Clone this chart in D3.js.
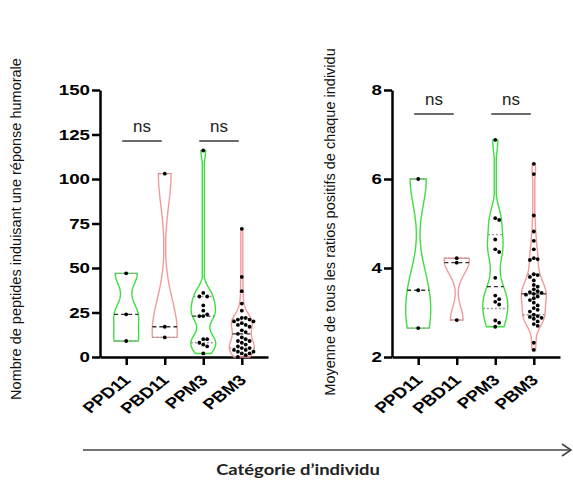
<!DOCTYPE html>
<html><head><meta charset="utf-8">
<script src="https://cdn.jsdelivr.net/npm/d3@7"></script>
<style>body{margin:0;background:#fff}</style>
</head><body><svg id="c" width="573" height="481"></svg>
<script>
// ---------- DATA ----------
const categories = ["PPD11", "PBD11", "PPM3", "PBM3"];
// Left panel: number of peptides inducing a humoral response
const leftPPD11 = [47, 24, 9];
const leftPBD11 = [103, 17, 11];
const leftPPM3 = [116, 36, 34, 34, 29, 26, 24, 23, 23, 10, 10, 8, 7, 6, 2];
const leftPBM3 = [72, 45, 37, 30, 26, 22, 22, 21, 21, 20, 20, 19, 18, 18, 17, 15, 14, 13, 11, 10, 9, 9, 8, 7, 6, 5, 5, 4, 4, 3, 3, 2, 2, 1, 0];
// Right panel: mean of positive ratios per individual
const rightPPD11 = [6.0, 3.5, 2.65];
const rightPBD11 = [4.22, 4.12, 2.83];
const rightPPM3 = [6.88, 5.12, 5.08, 4.64, 4.42, 4.36, 3.78, 3.38, 3.30, 3.24, 3.18, 2.82, 2.77, 2.68];
const rightPBM3 = [6.34, 6.11, 5.18, 4.82, 4.61, 4.42, 4.22, 4.20, 4.18, 3.86, 3.84, 3.80, 3.72, 3.62, 3.58, 3.52, 3.48, 3.46, 3.44, 3.42, 3.40, 3.36, 3.32, 3.28, 3.22, 3.16, 3.10, 3.06, 3.02, 2.95, 2.92, 2.90, 2.88, 2.86, 2.80, 2.74, 2.70, 2.32, 2.16];
const leftTicks = [0, 25, 50, 75, 100, 125, 150];
const rightTicks = [2, 4, 6, 8];
const leftTitle = "Nombre de peptides induisant une réponse humorale";
const rightTitle = "Moyenne de tous les ratios positifs de chaque individu";
const xTitle = "Catégorie d’individu";
const sigLabels = ["ns", "ns"];
const sigPairs = [["PPD11", "PBD11"], ["PPM3", "PBM3"]];

// ---------- SETTINGS ----------
const FONT = "'Liberation Sans', Arial, Helvetica, sans-serif";
const STRETCH = 1.25; // reference image is horizontally stretched
const colors = {PPD11: "#3fde3f", PBD11: "#f29b9b", PPM3: "#3fde3f", PBM3: "#f29b9b"};
const svg = d3.select("#c");
const Y0 = 357, Y1 = 90, HALF = 12.5;

function gpQuantile(sortedAsc, p) {
  const n = sortedAsc.length;
  let pos = (n + 1) * p;
  if (pos <= 1) return sortedAsc[0];
  if (pos >= n) return sortedAsc[n - 1];
  const lo = Math.floor(pos), f = pos - lo;
  return sortedAsc[lo - 1] + f * (sortedAsc[lo] - sortedAsc[lo - 1]);
}

function drawPanel(cfg) {
  const g = svg.append("g");
  const y = d3.scaleLinear().domain(cfg.domain).range([Y0, Y1]);
  const x = d3.scalePoint().domain(categories).range(cfg.xRange).padding(0.68);

  // axes
  const ya = g.append("g").attr("transform", `translate(${cfg.xRange[0]},0)`)
    .call(d3.axisLeft(y).tickValues(cfg.ticks).tickFormat(d3.format("d"))
      .tickSize(8).tickSizeOuter(0).tickPadding(2));
  const xa = g.append("g").attr("transform", `translate(0,${Y0})`)
    .call(d3.axisBottom(x).tickSize(8).tickSizeOuter(0));
  [ya, xa].forEach(a => {
    a.attr("font-family", null);
    a.select(".domain").attr("stroke", "#000").attr("stroke-width", 2.5);
    a.selectAll(".tick line").attr("stroke", "#000").attr("stroke-width", 2.5);
  });
  ya.selectAll("text").style("font-family", FONT)
    .attr("font-weight", "bold").attr("font-size", 15).attr("fill", "#000")
    .attr("x", -10 / STRETCH).attr("transform", `scale(${STRETCH},1)`);
  xa.selectAll("text").style("font-family", FONT)
    .attr("font-weight", "bold").attr("font-size", 15).attr("fill", "#000")
    .attr("text-anchor", "end").attr("dy", 0).attr("y", 0)
    .attr("transform", `translate(5,24) scale(${STRETCH},1) rotate(-45)`);

  // title
  g.append("text").attr("transform", `translate(${cfg.titleX},${cfg.titleY}) rotate(-90)`)
    .attr("text-anchor", "middle").style("font-family", FONT)
    .attr("font-size", 14.5).attr("fill", "#111").text(cfg.title);

  // violins
  categories.forEach((c, i) => {
    const vals = cfg.data[i];
    const bw = cfg.bw[i];
    const asc = vals.slice().sort((a, b) => a - b);
    const mn = asc[0], mx = asc[asc.length - 1];
    const N = 120;
    const grid = d3.range(N + 1).map(k => mn + (mx - mn) * k / N);
    const dens = v => d3.sum(vals, d => Math.exp(-((v - d) ** 2) / (2 * bw * bw)));
    const dg = grid.map(dens);
    const dmax = d3.max(dg);
    const widthAt = v => Math.max(1.0, dens(v) / dmax * HALF);
    const pts = grid.map((v, k) => ({v, w: Math.max(1.0, dg[k] / dmax * HALF)}));
    const cx = x(c);
    const area = d3.area().x0(p => cx - p.w).x1(p => cx + p.w).y(p => y(p.v)).curve(d3.curveLinear);
    g.append("path").attr("d", area(pts)).attr("fill", "none")
      .attr("stroke", colors[c]).attr("stroke-width", 1.4);

    // quartiles & median
    const q1 = gpQuantile(asc, 0.25), med = gpQuantile(asc, 0.5), q3 = gpQuantile(asc, 0.75);
    [[q1, "#9a9a9a", "2,2"], [q3, "#9a9a9a", "2,2"], [med, "#333", "4,3"]].forEach(([q, col, da]) => {
      const w = widthAt(q);
      g.append("line").attr("x1", cx - w).attr("x2", cx + w).attr("y1", y(q)).attr("y2", y(q))
        .attr("stroke", col).attr("stroke-width", 1.3).attr("stroke-dasharray", da);
    });

    // beeswarm points
    const placed = [];
    const r = 1.9, step = 3.9;
    vals.slice().sort((a, b) => b - a).forEach(v => {
      const py = y(v);
      let off = 0;
      for (let k = 0; k < 40; k++) {
        const o = k === 0 ? 0 : (k % 2 ? 1 : -1) * Math.ceil(k / 2) * step;
        const ok = placed.every(p => Math.hypot(p.x - o, p.y - py) >= step);
        if (ok) { off = o; break; }
      }
      placed.push({x: off, y: py});
      g.append("circle").attr("cx", cx + off).attr("cy", py).attr("r", r).attr("fill", "#000");
    });
  });

  // significance
  sigPairs.forEach((pr, j) => {
    const xa0 = x(pr[0]) - 4, xa1 = x(pr[1]) - 3;
    g.append("line").attr("x1", xa0).attr("x2", xa1).attr("y1", cfg.sigY).attr("y2", cfg.sigY)
      .attr("stroke", "#6b6b6b").attr("stroke-width", 2);
    g.append("text").attr("x", (xa0 + xa1) / 2).attr("y", cfg.sigY - 9)
      .attr("text-anchor", "middle").style("font-family", FONT)
      .attr("font-size", 17).attr("fill", "#222").text(sigLabels[j]);
  });
}

drawPanel({domain: [0, 150], ticks: leftTicks, xRange: [100, 268], title: leftTitle,
  titleX: 21, titleY: 229, data: [leftPPD11, leftPBD11, leftPPM3, leftPBM3],
  bw: [7, 18, 5, 4], sigY: 141});
drawPanel({domain: [2, 8], ticks: rightTicks, xRange: [392, 560], title: rightTitle,
  titleX: 335, titleY: 222, data: [rightPPD11, rightPBD11, rightPPM3, rightPBM3],
  bw: [0.6, 0.3, 0.3, 0.2], sigY: 114});

// bottom arrow and title
svg.append("line").attr("x1", 83).attr("x2", 571).attr("y1", 450).attr("y2", 450)
  .attr("stroke", "#444").attr("stroke-width", 1.6);
svg.append("path").attr("d", "M562,444 L571,450 L562,456").attr("fill", "none")
  .attr("stroke", "#444").attr("stroke-width", 1.6);
svg.append("text").attr("transform", `translate(298,475) scale(1.15,1)`).attr("text-anchor", "middle")
  .style("font-family", "Lato, 'Open Sans', sans-serif").attr("font-weight", "bold")
  .attr("font-size", 16).attr("fill", "#222").text(xTitle);
</script></body></html>
